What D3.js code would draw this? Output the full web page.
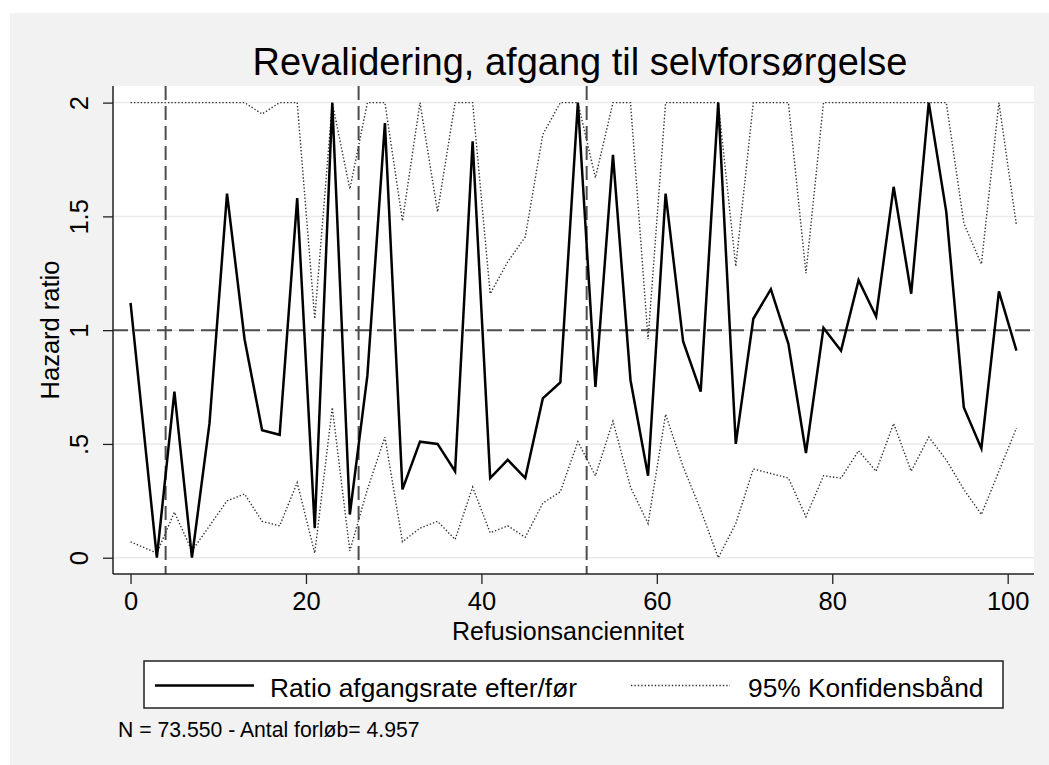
<!DOCTYPE html>
<html>
<head>
<meta charset="utf-8">
<script src="https://cdn.jsdelivr.net/npm/d3@7"></script>
<style>
  html, body { margin: 0; padding: 0; background: #ffffff; }
  svg { display: block; }
  text { font-family: "Liberation Sans", Arial, Helvetica, sans-serif; fill: #000; }
</style>
</head>
<body>
<svg id="chart" width="1049" height="765"></svg>
<script>
// ---- Data ----
const refusion = [0, 3, 5, 7, 9, 11, 13, 15, 17, 19, 21, 23, 25, 27, 29, 31, 33, 35, 37, 39,
  41, 43, 45, 47, 49, 51, 53, 55, 57, 59, 61, 63, 65, 67, 69, 71, 73, 75, 77, 79,
  81, 83, 85, 87, 89, 91, 93, 95, 97, 99, 101];
const ratio = [1.12, 0.00, 0.73, 0.00, 0.59, 1.60, 0.96, 0.56, 0.54, 1.58, 0.13, 2.00, 0.19, 0.80, 1.91, 0.30, 0.51, 0.50, 0.38, 1.83,
  0.35, 0.43, 0.35, 0.70, 0.77, 2.00, 0.75, 1.77, 0.78, 0.36, 1.60, 0.95, 0.73, 2.00, 0.50, 1.05, 1.18, 0.94, 0.46, 1.01,
  0.91, 1.22, 1.06, 1.63, 1.16, 2.00, 1.52, 0.66, 0.48, 1.17, 0.91];
const upper = [2.00, 2.00, 2.00, 2.00, 2.00, 2.00, 2.00, 1.95, 2.00, 2.00, 1.05, 2.00, 1.62, 2.00, 2.00, 1.48, 2.00, 1.52, 2.00, 2.00,
  1.16, 1.30, 1.41, 1.86, 2.00, 2.00, 1.67, 2.00, 2.00, 0.96, 2.00, 2.00, 2.00, 2.00, 1.28, 2.00, 2.00, 2.00, 1.25, 2.00,
  2.00, 2.00, 2.00, 2.00, 2.00, 2.00, 2.00, 1.47, 1.29, 2.00, 1.46];
const lower = [0.07, 0.02, 0.20, 0.03, 0.14, 0.25, 0.28, 0.16, 0.14, 0.33, 0.02, 0.66, 0.03, 0.30, 0.53, 0.07, 0.13, 0.16, 0.08, 0.31,
  0.11, 0.14, 0.09, 0.24, 0.29, 0.51, 0.36, 0.60, 0.31, 0.15, 0.63, 0.40, 0.21, 0.00, 0.15, 0.39, 0.37, 0.35, 0.18, 0.36,
  0.35, 0.47, 0.38, 0.59, 0.38, 0.53, 0.43, 0.30, 0.19, 0.38, 0.57];
const xTicks = [0, 20, 40, 60, 80, 100];
const yTicks = [0, 0.5, 1, 1.5, 2];
const yTickLabels = ["0", ".5", "1", "1.5", "2"];
const vRefLines = [4, 26, 52];
const hRefLine = 1;
const titleText = "Revalidering, afgang til selvforsørgelse";
const xTitle = "Refusionsanciennitet";
const yTitle = "Hazard ratio";
const legendLabels = ["Ratio afgangsrate efter/før", "95% Konfidensbånd"];
const noteText = "N = 73.550 - Antal forløb= 4.957";

// ---- Drawing ----
const svg = d3.select("#chart");
const plot = {left: 113, right: 1034, top: 86, bottom: 574};

svg.append("rect").attr("x", 10).attr("y", 13).attr("width", 1039).attr("height", 752).attr("fill", "#f2f2f2");
svg.append("rect").attr("x", plot.left).attr("y", plot.top)
  .attr("width", plot.right - plot.left).attr("height", plot.bottom - plot.top).attr("fill", "#ffffff");

const x = d3.scaleLinear().domain([-2, 103]).range([plot.left, plot.right]);
const y = d3.scaleLinear().domain([-0.0716, 2.073]).range([plot.bottom, plot.top]);

// gridlines
svg.append("g").selectAll("line").data(yTicks).join("line")
  .attr("x1", plot.left).attr("x2", plot.right)
  .attr("y1", d => y(d)).attr("y2", d => y(d))
  .attr("stroke", "#eaeaea").attr("stroke-width", 1.5);

// reference lines
svg.append("g").selectAll("line").data(vRefLines).join("line")
  .attr("x1", d => x(d)).attr("x2", d => x(d))
  .attr("y1", plot.top).attr("y2", plot.bottom)
  .attr("stroke", "#4d4d4d").attr("stroke-width", 2).attr("stroke-dasharray", "14,6");
svg.append("line")
  .attr("x1", plot.left).attr("x2", plot.right)
  .attr("y1", y(hRefLine)).attr("y2", y(hRefLine))
  .attr("stroke", "#4d4d4d").attr("stroke-width", 2).attr("stroke-dasharray", "15,7");

const idx = d3.range(refusion.length);
const mkLine = arr => d3.line().x(i => x(refusion[i])).y(i => y(arr[i]))(idx);

svg.append("path").attr("d", mkLine(upper)).attr("fill", "none")
  .attr("stroke", "#333").attr("stroke-width", 1.4).attr("stroke-dasharray", "1.4,2");
svg.append("path").attr("d", mkLine(lower)).attr("fill", "none")
  .attr("stroke", "#333").attr("stroke-width", 1.4).attr("stroke-dasharray", "1.4,2");
svg.append("path").attr("d", mkLine(ratio)).attr("fill", "none")
  .attr("stroke", "#000").attr("stroke-width", 2.5).attr("stroke-linejoin", "miter");

// axes
const xAxis = svg.append("g").attr("transform", `translate(0,${plot.bottom})`)
  .call(d3.axisBottom(x).tickValues(xTicks).tickSize(10).tickPadding(8).tickFormat(d3.format("d")));
xAxis.select(".domain").attr("stroke", "#222").attr("stroke-width", 1.5)
  .attr("d", `M${plot.left},0H${plot.right}`);
xAxis.selectAll(".tick line").attr("stroke", "#222").attr("stroke-width", 1.3);
xAxis.selectAll(".tick text").attr("font-size", 25.5).attr("fill", "#000")
  .attr("font-family", "Liberation Sans, Arial, sans-serif").attr("dy", null).attr("y", 36);

const yAxis = svg.append("g").attr("transform", `translate(${plot.left},0)`)
  .call(d3.axisLeft(y).tickValues(yTicks).tickSize(10).tickFormat((d, i) => yTickLabels[i]));
yAxis.select(".domain").attr("stroke", "#222").attr("stroke-width", 1.5)
  .attr("d", `M0,${plot.top}V${plot.bottom}`);
yAxis.selectAll(".tick line").attr("stroke", "#222").attr("stroke-width", 1.3);
yAxis.selectAll(".tick text").attr("font-size", 25.5).attr("fill", "#000")
  .attr("font-family", "Liberation Sans, Arial, sans-serif")
  .attr("x", null).attr("dy", null).attr("text-anchor", "middle")
  .attr("transform", "translate(-25,0) rotate(-90)");

// titles
svg.append("text").attr("x", 580).attr("y", 75).attr("text-anchor", "middle")
  .attr("font-size", 38).text(titleText);
svg.append("text").attr("x", 568).attr("y", 640).attr("text-anchor", "middle")
  .attr("font-size", 25).text(xTitle);
svg.append("text").attr("transform", `translate(59,${(plot.top + plot.bottom) / 2}) rotate(-90)`)
  .attr("text-anchor", "middle").attr("font-size", 25.5).text(yTitle);

// legend
const lg = svg.append("g");
lg.append("rect").attr("x", 144).attr("y", 661).attr("width", 859).attr("height", 47)
  .attr("fill", "#fff").attr("stroke", "#222").attr("stroke-width", 1.5);
lg.append("line").attr("x1", 155).attr("x2", 254).attr("y1", 685.5).attr("y2", 685.5)
  .attr("stroke", "#000").attr("stroke-width", 2.5);
lg.append("text").attr("x", 270).attr("y", 697).attr("font-size", 26.3).text(legendLabels[0]);
lg.append("line").attr("x1", 631).attr("x2", 730).attr("y1", 685.5).attr("y2", 685.5)
  .attr("stroke", "#333").attr("stroke-width", 1.4).attr("stroke-dasharray", "1.4,2");
lg.append("text").attr("x", 748).attr("y", 697).attr("font-size", 26.3).text(legendLabels[1]);

// note
svg.append("text").attr("x", 118).attr("y", 737).attr("font-size", 21.2).text(noteText);
</script>
</body>
</html>
